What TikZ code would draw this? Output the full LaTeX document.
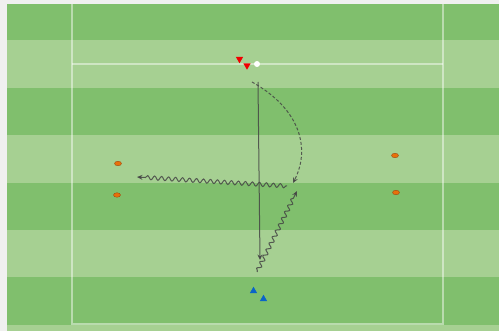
\documentclass[tikz,border=0pt]{standalone}
\usetikzlibrary{shapes.geometric,decorations.pathmorphing,arrows.meta}
\definecolor{bg}{HTML}{F0F0F0}
\definecolor{darkgrass}{HTML}{80BF6D}
\definecolor{lightgrass}{HTML}{A6D092}
\definecolor{redp}{HTML}{F00000}
\definecolor{bluep}{HTML}{0A64C8}
\definecolor{conefill}{HTML}{E8700A}
\definecolor{coneedge}{HTML}{A04A10}
\definecolor{ink}{HTML}{454545}
\begin{document}
\begin{tikzpicture}[x=1pt,y=-1pt,
 redpl/.style={regular polygon, regular polygon sides=3, shape border rotate=180, fill=redp, inner sep=0pt, minimum size=8.5pt},
 bluepl/.style={regular polygon, regular polygon sides=3, fill=bluep, inner sep=0pt, minimum size=8.5pt},
 cone/.style={ellipse, fill=conefill, draw=coneedge, line width=0.4pt, minimum width=7pt, minimum height=4.5pt, inner sep=0pt},
 ballst/.style={circle, fill=white, inner sep=0pt, minimum size=6pt},
 pass/.style={draw=ink, draw opacity=0.85, line width=1pt, -{Stealth[length=5.5pt,width=5pt]}},
 runline/.style={pass, dash pattern=on 3pt off 2pt},
 dribble/.style={pass, decorate, decoration={snake, amplitude=2pt, segment length=7pt, post length=5pt, pre length=1pt}},
 fieldline/.style={draw=white, draw opacity=0.45, line width=1.2pt}
]
\useasboundingbox (0,0) rectangle (499,331);
\fill[bg] (0,0) rectangle (499,331);
% stripes
\fill[darkgrass]  (7,4)   rectangle (499,40);
\fill[lightgrass] (7,40)  rectangle (499,88);
\fill[darkgrass]  (7,88)  rectangle (499,135);
\fill[lightgrass] (7,135) rectangle (499,183);
\fill[darkgrass]  (7,183) rectangle (499,230);
\fill[lightgrass] (7,230) rectangle (499,277);
\fill[darkgrass]  (7,277) rectangle (499,325);
\fill[lightgrass] (7,325) rectangle (499,331);
% field lines
\draw[fieldline] (72,4) -- (72,324) -- (443,324) -- (443,4);
\draw[fieldline] (72,64) -- (443,64);
% cones
\node[cone] (c1) at (118,163.5) {};
\node[cone] (c2) at (117,195) {};
\node[cone] (c3) at (395,155.5) {};
\node[cone] (c4) at (396,192.5) {};
% players
\node[redpl] (r1) at (239.5,59) {};
\node[redpl] (r2) at (247,65.5) {};
\node[ballst] (ball) at (257,64) {};
\node[bluepl] (b1) at (253.5,291) {};
\node[bluepl] (b2) at (263.5,299) {};
% connector anchors
\coordinate (p1) at (258,82);
\coordinate (p2) at (260,260);
\coordinate (d1) at (252,82);
\coordinate (d2) at (293,183);
\coordinate (h1) at (287,186);
\coordinate (h2) at (137,177);
\coordinate (w1) at (257,272);
\coordinate (w2) at (297,191);
% connectors
\draw[pass] (p1) -- (p2);
\draw[runline] (d1) .. controls (302,110) and (310,150) .. (d2);
\draw[dribble] (h1) -- (h2);
\draw[dribble] (w1) -- (w2);
\end{tikzpicture}
\end{document}
